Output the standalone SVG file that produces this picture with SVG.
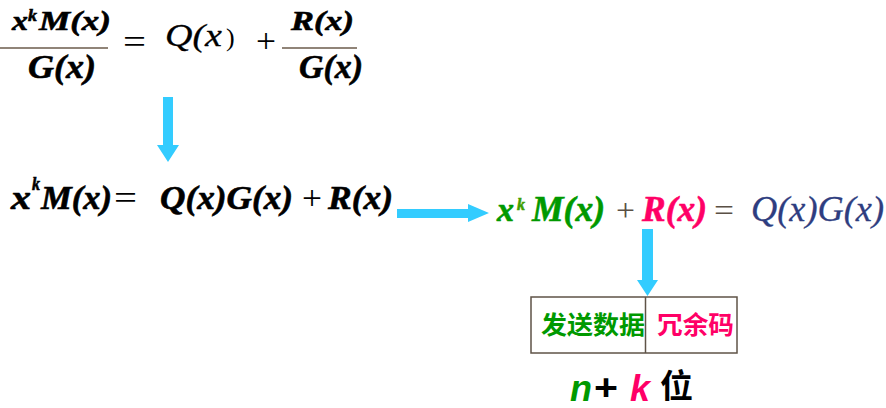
<svg xmlns="http://www.w3.org/2000/svg" width="886" height="408" viewBox="0 0 886 408">
<defs>
<style>
.m{font-family:"Liberation Serif","Times New Roman",serif;font-style:italic;font-weight:bold;fill:#000;stroke:#000;stroke-width:0.6}
.mr{font-family:"Liberation Serif","Times New Roman",serif;font-style:italic;font-weight:normal;fill:#000;stroke:#000;stroke-width:0.3}
.op{font-family:"Liberation Serif","Times New Roman",serif;font-weight:normal;fill:#000}
.cjk{font-family:"Noto Sans CJK SC","Noto Sans CJK JP",sans-serif}
.fr{stroke:#6b5b4b;stroke-width:1.5}
.arrow{fill:#33CCFF}
.box{fill:none;stroke:#5f5347;stroke-width:1.5}
.g{fill:#009900;stroke:#009900}
.p{fill:#ff0066;stroke:#ff0066}
.b{fill:#2e3d80;stroke:#2e3d80}
.gr{fill:#5a5045}
</style>
</defs>
<g id="eq-top">
<text class="m" x="12" y="30" font-size="28" textLength="16" lengthAdjust="spacingAndGlyphs">x</text>
<text class="m" x="28" y="21" font-size="17" textLength="9" lengthAdjust="spacingAndGlyphs">k</text>
<text class="m" x="39" y="30" font-size="28" textLength="72" lengthAdjust="spacingAndGlyphs">M(x)</text>
<line class="fr" x1="0" y1="48" x2="108" y2="48"/>
<text class="m" x="28" y="78" font-size="34" textLength="68" lengthAdjust="spacingAndGlyphs">G(x)</text>
<text class="op" x="123" y="53" font-size="34" textLength="23" lengthAdjust="spacingAndGlyphs">=</text>
<text class="mr" x="165" y="46" font-size="32" textLength="57" lengthAdjust="spacingAndGlyphs">Q(x</text>
<text class="op" x="226" y="46" font-size="26">)</text>
<text class="op" x="256" y="52" font-size="34" textLength="20" lengthAdjust="spacingAndGlyphs">+</text>
<line class="fr" x1="282" y1="48" x2="357" y2="48"/>
<text class="m" x="291" y="30" font-size="28" textLength="63" lengthAdjust="spacingAndGlyphs">R(x)</text>
<text class="m" x="299" y="78" font-size="34" textLength="64" lengthAdjust="spacingAndGlyphs">G(x)</text>
</g>
<g id="eq-middle">
<text class="m" x="11" y="209" font-size="33" textLength="20" lengthAdjust="spacingAndGlyphs">x</text>
<text class="m" x="32" y="190" font-size="18" textLength="8" lengthAdjust="spacingAndGlyphs">k</text>
<text class="m" x="41" y="209" font-size="33" textLength="71" lengthAdjust="spacingAndGlyphs">M(x)</text>
<text class="op" x="114" y="209" font-size="34" textLength="23" lengthAdjust="spacingAndGlyphs">=</text>
<text class="m" x="160" y="209" font-size="33" textLength="133" lengthAdjust="spacingAndGlyphs">Q(x)G(x)</text>
<text class="op" x="302" y="209" font-size="34" textLength="20" lengthAdjust="spacingAndGlyphs">+</text>
<text class="m" x="328" y="209" font-size="33" textLength="65" lengthAdjust="spacingAndGlyphs">R(x)</text>
</g>
<g id="eq-right">
<text class="m g" x="497" y="221" font-size="33" textLength="17" lengthAdjust="spacingAndGlyphs">x</text>
<text class="m" x="517" y="210" font-size="17" textLength="8" lengthAdjust="spacingAndGlyphs" style="fill:#3f9f00;stroke:#3f9f00">k</text>
<text class="m g" x="532" y="221" font-size="36" textLength="73" lengthAdjust="spacingAndGlyphs">M(x)</text>
<text class="op gr" x="616" y="221" font-size="32" textLength="19" lengthAdjust="spacingAndGlyphs">+</text>
<text class="m p" x="642" y="221" font-size="36" textLength="65" lengthAdjust="spacingAndGlyphs">R(x)</text>
<text class="op gr" x="714" y="221" font-size="32" textLength="20" lengthAdjust="spacingAndGlyphs">=</text>
<text class="mr b" x="751" y="221" font-size="36" textLength="133" lengthAdjust="spacingAndGlyphs">Q(x)G(x)</text>
</g>
<g id="connectors">
<path class="arrow" d="M163,97 H173 V145 H179 L168,162 L157,145 H163 Z"/>
<path class="arrow" d="M397,209 H468 V204 L489,213 L468,222 V218 H397 Z"/>
<path class="arrow" d="M642,229 H653 V280 H658 L647.5,296 L637,280 H642 Z"/>
</g>
<g id="frame">
<rect class="box" x="531" y="297" width="206" height="56"/>
<line class="box" x1="645.5" y1="297" x2="645.5" y2="353"/>
</g>
<g id="data">
<text class="cjk" x="541" y="334" font-size="25" font-weight="bold" textLength="104" lengthAdjust="spacingAndGlyphs" fill="#009900">发送数据</text>
</g>
<g id="redundancy">
<text class="cjk" x="657" y="334" font-size="25" font-weight="bold" textLength="77" lengthAdjust="spacingAndGlyphs" fill="#ff0066">冗余码</text>
</g>
<g id="length">
<text x="570" y="401" font-family="Liberation Sans,Arial,sans-serif" font-weight="bold" font-style="italic" font-size="36" fill="#009900">n</text>
<text x="594" y="400" font-family="Liberation Sans,Arial,sans-serif" font-weight="bold" font-size="36" textLength="24" lengthAdjust="spacingAndGlyphs" fill="#000">+</text>
<text x="630" y="401" font-family="Liberation Sans,Arial,sans-serif" font-weight="bold" font-style="italic" font-size="36" fill="#ff0066">k</text>
<text class="cjk" x="660" y="398" font-size="33" font-weight="bold" fill="#000">位</text>
</g>
</svg>
